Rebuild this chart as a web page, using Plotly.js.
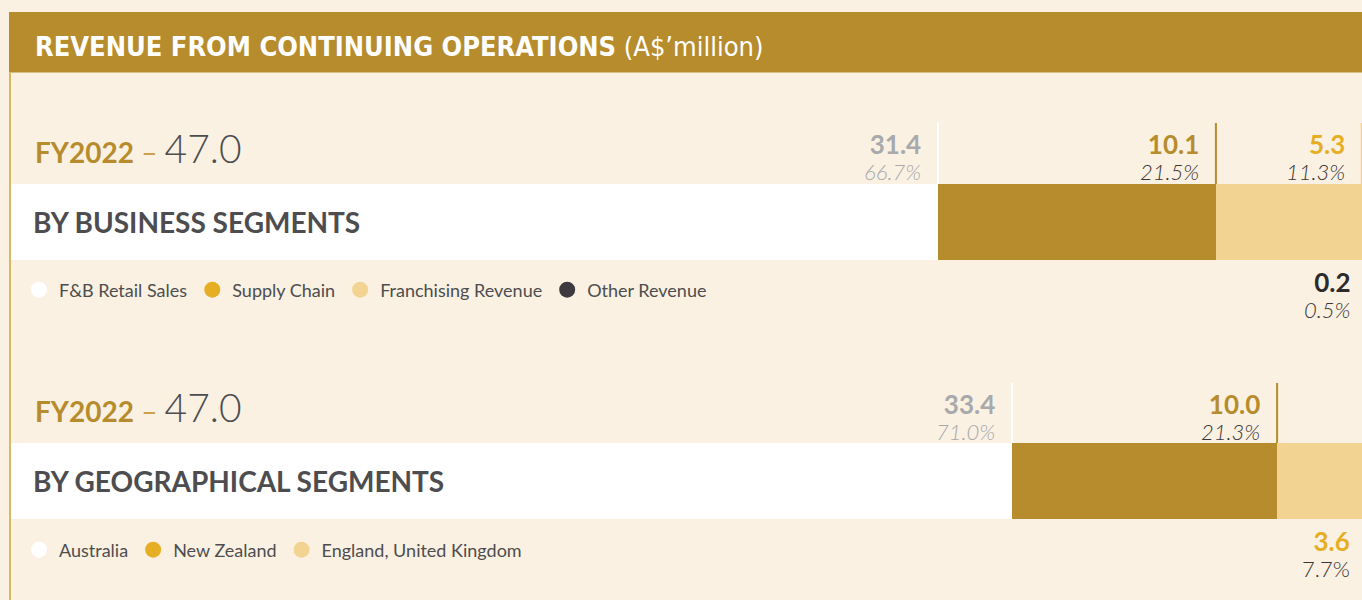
<!DOCTYPE html>
<html><head><meta charset="utf-8">
<script src="https://cdn.plot.ly/plotly-3.0.1.min.js"></script>
<style>html,body{margin:0;padding:0;background:#FAF1E3;}#chart{width:1362px;height:600px;}</style>
</head><body><div id="chart"></div>
<script>
// ---------- DATA ----------
const chartTitle = 'REVENUE FROM CONTINUING OPERATIONS';
const chartUnit = '(A$’million)';
const fiscalYear = 'FY2022';

const businessTitle = 'BY BUSINESS SEGMENTS';
const businessSegments = ['F&B Retail Sales', 'Supply Chain', 'Franchising Revenue', 'Other Revenue'];
const businessValues = [31.4, 10.1, 5.3, 0.2];
const businessShares = ['66.7%', '21.5%', '11.3%', '0.5%'];

const geoTitle = 'BY GEOGRAPHICAL SEGMENTS';
const geoSegments = ['Australia', 'New Zealand', 'England, United Kingdom'];
const geoValues = [33.4, 10.0, 3.6];
const geoShares = ['71.0%', '21.3%', '7.7%'];

// ---------- STYLES ----------
const GOLD = '#B68C2D', LIGHT = '#F2D391', YELLOW = '#E6AE23', DARK = '#3D3B3F',
      GREY = '#A7A9AC', TEXT = '#4D4D4F', PCT = '#3A3536', CREAM = '#FAF1E3', WHITE = '#FFFFFF';
const FONT = 'Lato, "Open Sans", sans-serif';
const W = 1362, H = 600;

const blocks = [
  { title: businessTitle, names: businessSegments, values: businessValues, shares: businessShares,
    barColors: [WHITE, GOLD, LIGHT, DARK], legendColors: [WHITE, YELLOW, LIGHT, DARK],
    numColors: [GREY, GOLD, YELLOW, '#2E2A2B'], pctColors: [GREY, PCT, PCT, PCT],
    pctItalic: [true, true, true, true], below: [false, false, false, true],
    xa: 'x', ya: 'y', legend: 'legend',
    xrange: [-2.694, 46.81], domainPx: [123, 260], legendY: 290 },
  { title: geoTitle, names: geoSegments, values: geoValues, shares: geoShares,
    barColors: [WHITE, GOLD, LIGHT], legendColors: [WHITE, YELLOW, LIGHT],
    numColors: [GREY, GOLD, YELLOW], pctColors: [GREY, PCT, PCT],
    pctItalic: [true, true, false], below: [false, false, true],
    xa: 'x2', ya: 'y2', legend: 'legend2',
    xrange: [-4.792, 46.604], domainPx: [383, 519], legendY: 550 }
];
const BAR_PX = 76;

const traces = [], annotations = [], shapes = [];
const layout = {
  width: W, height: H, margin: { l: 0, r: 0, t: 0, b: 0 },
  paper_bgcolor: CREAM, plot_bgcolor: 'rgba(0,0,0,0)',
  barmode: 'stack', bargap: 0, showlegend: true,
  font: { family: FONT, color: TEXT },
  annotations: annotations, shapes: shapes
};

// header band + left border
shapes.push({ type: 'rect', xref: 'paper', yref: 'paper', x0: 9 / W, x1: 1, y0: 1 - 72.5 / H, y1: 1 - 12 / H,
  fillcolor: GOLD, line: { width: 0 }, layer: 'below' });
shapes.push({ type: 'line', xref: 'paper', yref: 'paper', x0: 10 / W, x1: 10 / W, y0: 0, y1: 1 - 72.5 / H,
  line: { color: '#D9B864', width: 2 }, layer: 'below' });
annotations.push({ xref: 'paper', yref: 'paper', x: 33 / W, y: 1 - 46 / H, xanchor: 'left', yanchor: 'middle',
  showarrow: false,
  text: '<b>' + chartTitle + '</b> <span style="font-weight:300">' + chartUnit + '</span>',
  font: { family: '"Liberation Sans Narrow", "DejaVu Sans Condensed", Lato, sans-serif', size: 27, color: WHITE } });

blocks.forEach((b, bi) => {
  const sfx = bi === 0 ? '' : '2';
  const dom = [1 - b.domainPx[1] / H, 1 - b.domainPx[0] / H];
  const yTop = -0.5 + (b.domainPx[1] - b.domainPx[0]) / BAR_PX;
  layout['xaxis' + sfx] = { domain: [0, 1], range: b.xrange, visible: false, fixedrange: true,
    anchor: 'y' + sfx };
  layout['yaxis' + sfx] = { domain: dom, range: [-0.5, yTop], visible: false, fixedrange: true,
    type: 'category', anchor: 'x' + sfx };
  layout[b.legend] = { orientation: 'h', x: 19 / W, xanchor: 'left', y: 1 - b.legendY / H, yanchor: 'middle',
    bgcolor: 'rgba(0,0,0,0)', borderwidth: 0, itemsizing: 'trace', traceorder: 'normal',
    font: { family: FONT, size: 18, color: TEXT }, itemclick: false, itemdoubleclick: false };

  // white label background left of bar
  shapes.push({ type: 'rect', xref: 'paper', yref: b.ya, x0: 11 / W, x1: 0.3, y0: -0.5, y1: 0.5,
    fillcolor: WHITE, line: { width: 0 }, layer: 'below' });

  const total = b.values.reduce((a, c) => a + c, 0);
  let cum = 0;
  b.values.forEach((v, i) => {
    cum = Math.round((cum + v) * 10) / 10;
    traces.push({ type: 'bar', orientation: 'h', x: [v], y: [b.title], name: b.names[i], width: 1,
      xaxis: b.xa, yaxis: b.ya, showlegend: false, hoverinfo: 'skip',
      marker: { color: b.barColors[i], line: { width: 0 } } });
    traces.push({ type: 'scatter', mode: 'markers', x: [null], y: [null], name: b.names[i],
      xaxis: b.xa, yaxis: b.ya, legend: b.legend, showlegend: true, hoverinfo: 'skip',
      marker: { color: b.legendColors[i], size: 16, line: { width: 0 } } });

    // separator line above segment end
    shapes.push({ type: 'line', xref: b.xa, yref: b.ya, x0: cum, x1: cum, y0: 0.5, y1: yTop,
      line: { color: b.barColors[i], width: 2 } });

    const below = b.below[i];
    const base = below
      ? { xref: 'paper', x: 1, xshift: -10, yref: b.ya, y: -0.5, yshift: -34 }
      : { xref: b.xa, x: cum, xshift: -15, yref: b.ya, y: 0.5, yshift: 27 };
    const pct = b.pctItalic[i] ? '<i>' + b.shares[i] + '</i>' : b.shares[i];
    annotations.push(Object.assign({}, base, { xanchor: 'right', yanchor: 'middle', align: 'right',
      showarrow: false,
      text: '<span style="font-size:26px;color:' + b.numColors[i] + '"><b>' + v.toFixed(1) + '</b></span><br>' +
            '<span style="font-size:22px;font-weight:300;color:' + b.pctColors[i] + '">' + pct + '</span>',
      font: { family: FONT, size: 20, color: b.pctColors[i] } }));
  });

  // block headline
  annotations.push({ xref: 'paper', yref: b.ya, x: 33 / W, y: 0.5, yshift: 36, xanchor: 'left', yanchor: 'middle',
    showarrow: false,
    text: '<b>' + fiscalYear + '</b> <span style="color:#C9A24A">–</span> ' +
          '<span style="font-size:39px;font-weight:300;color:' + TEXT + '">' + total.toFixed(1) + '</span>',
    font: { family: FONT, size: 28, color: GOLD } });
  // section title inside white band
  annotations.push({ xref: 'paper', yref: b.ya, x: 31 / W, y: 0, xanchor: 'left', yanchor: 'middle',
    showarrow: false, text: '<b>' + b.title + '</b>',
    font: { family: FONT, size: 28, weight: 900, color: TEXT } });
});

Plotly.newPlot('chart', traces, layout, { displayModeBar: false, staticPlot: true });
</script></body></html>
